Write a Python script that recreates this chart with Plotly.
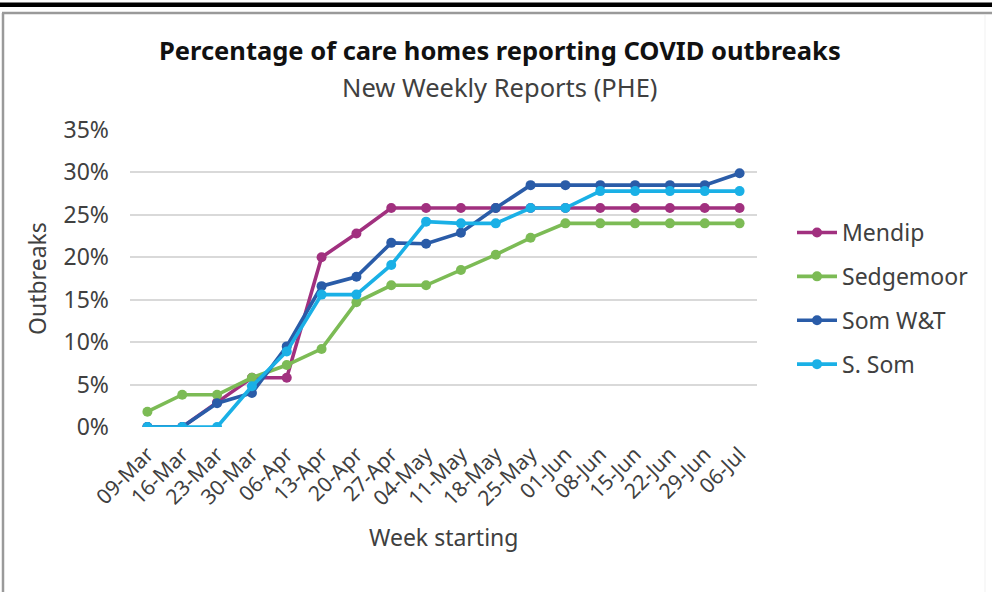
import plotly.graph_objects as go

weeks = ["09-Mar", "16-Mar", "23-Mar", "30-Mar", "06-Apr", "13-Apr", "20-Apr", "27-Apr",
         "04-May", "11-May", "18-May", "25-May", "01-Jun", "08-Jun", "15-Jun", "22-Jun",
         "29-Jun", "06-Jul"]

mendip = [0.0, 0.0, 2.9, 5.8, 5.8, 20.0, 22.8, 25.8, 25.8, 25.8, 25.8, 25.8, 25.8, 25.8,
          25.8, 25.8, 25.8, 25.8]
sedgemoor = [1.8, 3.8, 3.8, 5.8, 7.3, 9.2, 14.7, 16.7, 16.7, 18.5, 20.3, 22.3, 24.0, 24.0,
             24.0, 24.0, 24.0, 24.0]
som_wt = [0.0, 0.0, 2.8, 4.0, 9.5, 16.6, 17.7, 21.7, 21.6, 22.9, 25.8, 28.5, 28.5, 28.5,
          28.5, 28.5, 28.5, 29.9]
s_som = [0.0, 0.0, 0.0, 4.8, 8.9, 15.6, 15.6, 19.1, 24.2, 24.0, 24.0, 25.8, 25.8, 27.8,
         27.8, 27.8, 27.8, 27.8]

series_names = ["Mendip", "Sedgemoor", "Som W&T", "S. Som"]
series_values = [mendip, sedgemoor, som_wt, s_som]
series_colors = ["#A1307F", "#7CBB55", "#2A5CA8", "#1AB0E6"]

yticks = [0, 0.05, 0.10, 0.15, 0.20, 0.25, 0.30, 0.35]

FONT = "Noto Sans"
W, H = 992, 592
L, R, T, B = 130, 235, 130, 165
PW, PH = W - L - R, H - T - B


def px(x):
    return (x - L) / PW


def py(y):
    return (H - B - y) / PH


fig = go.Figure()
for name, vals, col in zip(series_names, series_values, series_colors):
    fig.add_trace(go.Scatter(
        x=weeks, y=[v / 100 for v in vals], name=name, mode="lines+markers",
        line=dict(color=col, width=3.6),
        marker=dict(color=col, size=10),
        legendgroup=name,
    ))

fig.update_layout(
    width=W, height=H,
    margin=dict(l=L, r=R, t=T, b=B, pad=0),
    paper_bgcolor="white", plot_bgcolor="white",
    font=dict(family=FONT, color="#404040", size=20),
    showlegend=True,
    legend=dict(
        x=px(792), y=py(211), xanchor="left", yanchor="top",
        font=dict(size=23, color="#404040", family=FONT),
        tracegroupgap=11, itemwidth=40, bgcolor="rgba(0,0,0,0)",
    ),
    xaxis=dict(
        type="category", range=[-0.5, 17.5], tickangle=-45, automargin=False,
        showgrid=False, zeroline=False, showline=False, ticks="",
        tickfont=dict(size=21, color="#404040"), ticklabelstandoff=10,
    ),
    yaxis=dict(
        range=[0, 0.35], tickvals=yticks, tickformat=".0%", automargin=False,
        showgrid=True, gridcolor="#D9D9D9", gridwidth=1.5, zeroline=False,
        showline=False, ticks="", ticklen=0, ticklabelstandoff=20,
        tickfont=dict(size=23, color="#404040"),
    ),
    annotations=[
        dict(text="<b>Percentage of care homes reporting COVID outbreaks</b>",
             x=px(500), y=py(50), xref="paper", yref="paper", showarrow=False,
             font=dict(size=25.5, color="#111111", family=FONT), xanchor="center", yanchor="middle"),
        dict(text="New Weekly Reports (PHE)",
             x=px(499), y=py(87), xref="paper", yref="paper", showarrow=False,
             font=dict(size=25.5, color="#404040", family=FONT), xanchor="center", yanchor="middle"),
        dict(text="Week starting",
             x=px(443), y=py(537), xref="paper", yref="paper", showarrow=False,
             font=dict(size=23, color="#404040", family=FONT), xanchor="center", yanchor="middle"),
        dict(text="Outbreaks", textangle=-90,
             x=px(37), y=py(279), xref="paper", yref="paper", showarrow=False,
             font=dict(size=23, color="#404040", family=FONT), xanchor="center", yanchor="middle"),
    ],
    shapes=[
        dict(type="rect", xref="paper", yref="paper", x0=px(0), x1=px(992), y0=py(2.5), y1=py(7),
             fillcolor="black", line=dict(width=0), layer="above"),
        dict(type="line", xref="paper", yref="paper", x0=px(2), x1=px(992), y0=py(13), y1=py(13),
             line=dict(color="#9A9A9A", width=2.5), layer="above"),
        dict(type="line", xref="paper", yref="paper", x0=px(3), x1=px(3), y0=py(13), y1=py(592),
             line=dict(color="#9A9A9A", width=2.5), layer="above"),
        dict(type="line", xref="paper", yref="paper", x0=px(985), x1=px(985), y0=py(15), y1=py(592),
             line=dict(color="#F3F3F3", width=1.2), layer="above"),
    ],
)

fig.write_html("out.html", config={"displayModeBar": False},
               post_script="document.body.style.margin='0';document.body.style.overflow='hidden';")
